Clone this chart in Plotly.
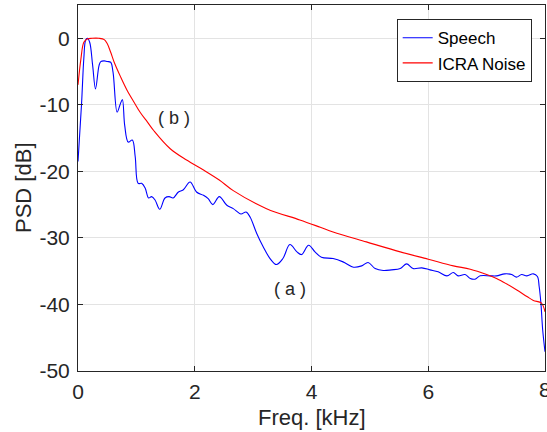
import plotly.graph_objects as go

# Speech PSD (a)
speech_f = [0.0, 0.06, 0.10, 0.13, 0.16, 0.20, 0.25, 0.30, 0.36, 0.39, 0.45, 0.50, 0.56, 0.60, 0.67, 0.72,
            0.76, 0.80, 0.86, 0.93, 0.98, 1.03, 1.09, 1.15, 1.21, 1.26, 1.32, 1.40, 1.49, 1.56, 1.63, 1.72,
            1.80, 1.92, 2.03, 2.15, 2.23, 2.31, 2.42, 2.55, 2.66, 2.79, 2.88, 2.95, 3.06, 3.17, 3.29, 3.40,
            3.51, 3.63, 3.75, 3.83, 3.95, 4.06, 4.17, 4.37, 4.54, 4.72, 4.86, 4.97, 5.09, 5.23, 5.37, 5.52,
            5.63, 5.74, 5.89, 6.03, 6.17, 6.32, 6.43, 6.51, 6.63, 6.72, 6.80, 6.89, 7.06, 7.17, 7.31, 7.43,
            7.51, 7.60, 7.69, 7.80, 7.87, 7.90, 7.93, 7.96, 8.0]
speech_db = [-18.5, -10.0, -3.0, -0.3, 0.0, -0.6, -4.0, -7.6, -4.1, -3.5, -3.4, -3.5, -3.6, -5.1, -11.1, -10.0,
             -9.2, -13.1, -15.6, -15.3, -17.8, -21.8, -21.8, -22.5, -24.0, -23.8, -24.3, -25.7, -24.0, -23.8, -24.0, -23.1,
             -22.8, -21.6, -23.1, -23.6, -24.1, -25.0, -23.8, -25.1, -25.6, -26.4, -26.1, -26.9, -29.3, -31.3, -33.1, -34.0,
             -33.1, -31.0, -32.1, -32.5, -31.1, -32.1, -32.9, -33.1, -33.6, -34.4, -34.2, -33.7, -34.6, -34.9, -34.8, -34.6,
             -33.9, -34.6, -34.5, -34.8, -35.1, -35.7, -35.2, -35.7, -35.5, -36.1, -36.2, -35.7, -35.7, -35.7, -35.4, -35.5,
             -35.9, -35.5, -35.7, -35.4, -35.8, -37.3, -39.8, -43.8, -47.1]

# ICRA noise PSD (b)
noise_f = [0.0, 0.05, 0.10, 0.16, 0.24, 0.36, 0.45, 0.50, 0.56, 0.62, 0.73, 0.84, 0.96, 1.07, 1.19, 1.30,
           1.58, 1.86, 2.15, 2.42, 2.66, 3.23, 3.80, 4.15, 4.37, 4.94, 5.52, 6.0, 6.43, 6.72, 7.0, 7.17,
           7.34, 7.51, 7.69, 7.80, 7.94, 8.0]
noise_db = [-7.0, -3.1, -0.6, -0.1, 0.0, 0.0, -0.2, -0.8, -2.1, -3.6, -5.8, -7.8, -9.6, -11.2, -12.6, -13.9,
            -16.6, -18.3, -19.8, -21.3, -22.9, -25.6, -27.3, -28.4, -29.1, -30.6, -32.1, -33.2, -34.2, -34.7, -35.5, -36.1,
            -36.9, -37.8, -38.8, -39.4, -39.8, -41.1]

x_ticks = [0, 2, 4, 6, 8]
y_ticks = [0, -10, -20, -30, -40, -50]

font_family = "Liberation Sans, Arial, sans-serif"
txt = "#262626"

fig = go.Figure()
fig.add_trace(go.Scatter(x=speech_f, y=speech_db, mode="lines", name="Speech",
                         line=dict(color="#0000ff", width=1.1), line_shape="spline"))
fig.add_trace(go.Scatter(x=noise_f, y=noise_db, mode="lines", name="ICRA Noise",
                         line=dict(color="#ff0000", width=1.1), line_shape="spline"))

fig.add_annotation(x=1.64, y=-12.0, text="( b )", showarrow=False,
                   font=dict(family=font_family, size=18, color=txt))
fig.add_annotation(x=3.63, y=-37.7, text="( a )", showarrow=False,
                   font=dict(family=font_family, size=18, color=txt))
# last x tick label (partly outside the page, as in the reference)
fig.add_annotation(x=x_ticks[-1], xref="x", y=0, yref="paper", yanchor="top", yshift=-5,
                   text=str(x_ticks[-1]), showarrow=False,
                   font=dict(family=font_family, size=21, color=txt))
# axis titles
fig.add_annotation(x=-0.1178, xref="paper", y=0.5, yref="paper", xanchor="center", yanchor="middle",
                   text="PSD [dB]", textangle=-90, showarrow=False,
                   font=dict(family=font_family, size=22, color=txt))
fig.add_annotation(x=0.5, xref="paper", y=-0.128, yref="paper", xanchor="center", yanchor="middle",
                   text="Freq. [kHz]", showarrow=False,
                   font=dict(family=font_family, size=22, color=txt))

axis_common = dict(showline=True, linecolor=txt, linewidth=1, mirror="ticks",
                   ticks="inside", ticklen=5, tickcolor=txt,
                   showgrid=True, gridcolor="#e3e3e3", gridwidth=1, zeroline=False,
                   tickfont=dict(family=font_family, size=21, color=txt))

fig.update_xaxes(range=[0, 8], tickvals=x_ticks,
                 ticktext=[str(v) for v in x_ticks[:-1]] + [""],
                 ticklabelstandoff=2,
                 **axis_common)
fig.update_yaxes(range=[-50, 5], tickvals=y_ticks, ticktext=[str(v) for v in y_ticks],
                 ticklabelstandoff=3,
                 **axis_common)

fig.update_layout(
    width=547, height=432,
    margin=dict(l=78, r=2, t=5, b=61, autoexpand=False),
    plot_bgcolor="white", paper_bgcolor="white",
    legend=dict(x=0.9715, y=0.961, xanchor="right", yanchor="top",
                bgcolor="white", bordercolor=txt, borderwidth=1,
                font=dict(family=font_family, size=17, color="#000000"),
                tracegroupgap=0, itemwidth=30),
    showlegend=True,
)

fig.write_html("out.html")
